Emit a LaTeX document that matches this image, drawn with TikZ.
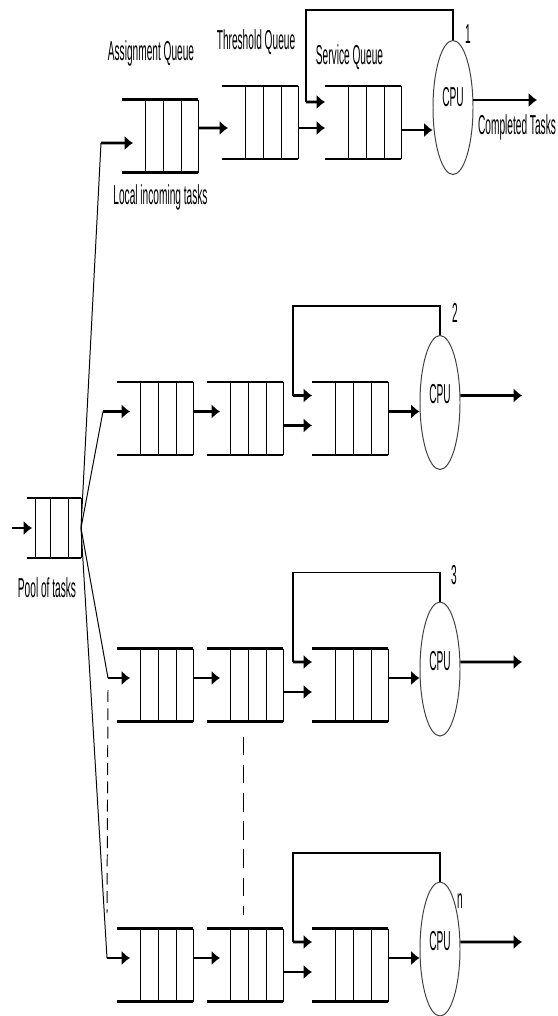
\documentclass[tikz,border=0pt]{standalone}
\usepackage{fontspec}
\setmainfont{Liberation Sans}
\usepackage{tikz}
\usetikzlibrary{arrows.meta, shapes.geometric}

\tikzset{
  qline/.style={line width=3.8pt},
  cell/.style={line width=1.4pt},
  arr/.style={line width=4pt, -{Latex[length=12pt,width=21pt]}},
  fb/.style={line width=2.8pt},
  link/.style={line width=1.4pt},
  cpu/.style={draw=black!75, line width=1.4pt, ellipse, minimum width=2cm, minimum height=6.7cm, inner sep=0},
  lbl/.style={font=\fontsize{39}{45}\selectfont, xscale=0.37, inner sep=0},
  queue/.pic={
    \draw[qline] (0,1.825) -- (3.8,1.825);
    \draw[qline] (0,-1.825) -- (3.8,-1.825);
    \foreach \xc in {1.15,2.05,2.95,3.8}
      \draw[cell] (\xc,1.825) -- (\xc,-1.825);
    \coordinate (-w) at (0,0);
    \coordinate (-e) at (3.8,0);
  }
}

\begin{document}
\begin{tikzpicture}
	\useasboundingbox (0,0) rectangle (27.85,-50.8);
	\coordinate (pool-w) at (1.35,-26.4);
	\coordinate (pool-e) at (4.05,-26.4);
	\draw[qline] (1.35,-24.9) -- (4.05,-24.9);
	\draw[qline] (1.35,-27.9) -- (4.05,-27.9);
	\foreach \xc in {1.75,2.5,3.4,4.05}
	  \draw[cell] (\xc,-24.9) -- (\xc,-27.9);
	\coordinate (pin) at (0.6,-26.4);
	\draw[arr] (pin) -- ([xshift=0.25cm]pool-w);
	\node[lbl] at (2.35,-29.4) {Pool of tasks};
	\pic (a1) at (6.1,-6.8) {queue};
	\pic (t1) at (11.1,-6.125) {queue};
	\pic (s1) at (16.25,-6.125) {queue};
	\node[cpu] (c1) at (22.65,-5.375) {};
	\node[lbl] at ([yshift=0.5cm]c1.center) {CPU};
	\node[lbl] at (23.4,-1.7) {1};
	\node[lbl] at (7.55,-2.65) {Assignment Queue};
	\node[lbl] at (12.8,-2.1) {Threshold Queue};
	\node[lbl] at (17.475,-2.85) {Service Queue};
	\node[lbl] at (8.025,-9.85) {Local incoming tasks};
	\node[lbl] at (25.85,-6.35) {Completed Tasks};
	\coordinate (in1) at (5.05,-7.15);
	\coordinate (k1) at (15.3,-5.1);
	\coordinate (out1) at (26.85,-5.0);
	\draw[link] (pool-e) -- (in1);
	\draw[arr] (in1) -- ([shift={(0.55,-0.35)}]a1-w);
	\draw[arr] ([yshift=0.4cm]a1-e) -- ([shift={(0.3,-0.275)}]t1-w);
	\draw[arr] ([yshift=-0.275cm]t1-e) -- ([yshift=-0.275cm]s1-w);
	\draw[fb] (c1.north) -- ++(0,1.5) -| (k1);
	\draw[arr] (k1) -- ([yshift=1.025cm]s1-w);
	\draw[arr] ([yshift=-0.375cm]s1-e) -- ([yshift=-0.375cm]s1-e -| c1.west);
	\draw[arr] ([yshift=0.375cm]c1.east) -- (out1);
	\foreach \r/\yc/\xin/\nm/\nx/\ny in {2/-20.925/5.15/2/22.75/5.275, 3/-34.25/5.4/3/22.7/5.5, 4/-48.25/5.35/n/23.0/3.2} {
	  \pic (a\r) at (5.85,\yc) {queue};
	  \pic (t\r) at (10.35,\yc) {queue};
	  \pic (s\r) at (15.6,\yc) {queue};
	  \node[cpu] (c\r) at (22,\yc+0.8) {};
	  \node[lbl] at ([yshift=0.4cm]c\r.center) {CPU};
	  \node[lbl] at (\nx,\yc+\ny) {\nm};
	  \coordinate (in\r) at (\xin,\yc+0.35);
	  \coordinate (k\r) at (14.65,\yc+1.15);
	  \coordinate (out\r) at (26.1,\yc+1.15);
	  \draw[link] (pool-e) -- (in\r);
	  \draw[arr] (in\r) -- ([shift={(0.65,0.35)}]a\r-w);
	  \draw[arr] ([yshift=0.35cm]a\r-e) -- ([shift={(0.65,0.35)}]t\r-w);
	  \draw[arr] ([yshift=-0.35cm]t\r-e) -- ([yshift=-0.35cm]s\r-w);
	  \draw[fb] (c\r.north) -- ++(0,1.45) -| (k\r);
	  \draw[arr] (k\r) -- ([yshift=1.15cm]s\r-w);
	  \draw[arr] ([yshift=0.35cm]s\r-e) -- ([yshift=0.35cm]s\r-e -| c\r.west);
	  \draw[arr] ([yshift=0.35cm]c\r.east) -- (out\r);
	}
	\draw[link, dash pattern=on 17pt off 9pt] ([yshift=-0.6cm]in3) -- ([yshift=2.25cm]in4);
	\draw[link, dash pattern=on 26pt off 14pt] ([shift={(1.8,-2.6)}]t3-w) -- ([shift={(1.8,2.5)}]t4-w);
\end{tikzpicture}
\end{document}
